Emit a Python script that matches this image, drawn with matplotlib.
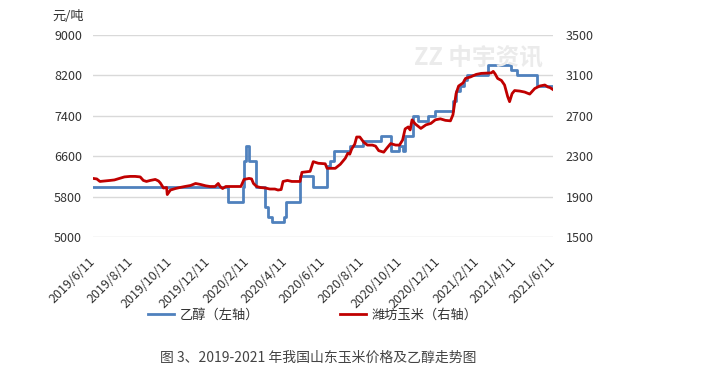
import matplotlib
matplotlib.use("Agg")
import matplotlib.pyplot as plt
import pandas as pd

plt.rcParams['font.family'] = ['Noto Sans CJK SC', 'DejaVu Sans']

# 乙醇 (left axis) - step changes
eth_dates = ["2019-06-11", "2020-01-12", "2020-02-04", "2020-02-06", "2020-02-09",
             "2020-02-14", "2020-02-25", "2020-03-10", "2020-03-15", "2020-03-21",
             "2020-04-10", "2020-04-13", "2020-05-05", "2020-05-25", "2020-06-17",
             "2020-06-22", "2020-06-28", "2020-07-23", "2020-08-13", "2020-09-10",
             "2020-09-26", "2020-10-10", "2020-10-16", "2020-10-19", "2020-11-01",
             "2020-11-09", "2020-11-24", "2020-12-06", "2021-01-03", "2021-01-08",
             "2021-01-15", "2021-01-20", "2021-01-25", "2021-02-27", "2021-04-05",
             "2021-04-15", "2021-05-16", "2021-06-11"]
eth_values = [6000, 5700, 6000, 6500, 6800,
              6500, 6000, 5600, 5400, 5300,
              5400, 5700, 6200, 6000, 6400,
              6500, 6700, 6800, 6900, 7000,
              6700, 6800, 6700, 7000, 7400,
              7300, 7400, 7500, 7700, 7900,
              8000, 8100, 8200, 8400, 8300,
              8200, 8000, 8000]

# 潍坊玉米 (right axis)
corn_dates = ["2019-06-11", "2019-06-17", "2019-06-22", "2019-06-30", "2019-07-08",
              "2019-07-15", "2019-07-23", "2019-07-31", "2019-08-09", "2019-08-17",
              "2019-08-25", "2019-08-30", "2019-09-04", "2019-09-10", "2019-09-18",
              "2019-09-23", "2019-09-26", "2019-10-01", "2019-10-06", "2019-10-07",
              "2019-10-12", "2019-10-20", "2019-10-27", "2019-11-04", "2019-11-13",
              "2019-11-21", "2019-11-29", "2019-12-07", "2019-12-14", "2019-12-22",
              "2019-12-27", "2019-12-30", "2020-01-03", "2020-01-08", "2020-02-01",
              "2020-02-06", "2020-02-14", "2020-02-18", "2020-02-21", "2020-02-26",
              "2020-03-03", "2020-03-11", "2020-03-18", "2020-03-26", "2020-03-31",
              "2020-04-05", "2020-04-08", "2020-04-15", "2020-04-22", "2020-05-05",
              "2020-05-08", "2020-05-21", "2020-05-26", "2020-06-03", "2020-06-14",
              "2020-06-17", "2020-06-30", "2020-07-08", "2020-07-16", "2020-07-20",
              "2020-07-23", "2020-07-26", "2020-07-31", "2020-08-03", "2020-08-08",
              "2020-08-14", "2020-08-20", "2020-08-28", "2020-09-02", "2020-09-07",
              "2020-09-15", "2020-09-20", "2020-09-26", "2020-10-04", "2020-10-10",
              "2020-10-15", "2020-10-19", "2020-10-24", "2020-10-27", "2020-10-30",
              "2020-11-04", "2020-11-13", "2020-11-21", "2020-11-29", "2020-12-06",
              "2020-12-14", "2020-12-22", "2020-12-30", "2021-01-03", "2021-01-08",
              "2021-01-12", "2021-01-19", "2021-01-23", "2021-01-31", "2021-02-09",
              "2021-02-17", "2021-03-05", "2021-03-08", "2021-03-11", "2021-03-15",
              "2021-03-21", "2021-03-26", "2021-03-31", "2021-04-03", "2021-04-07",
              "2021-04-11", "2021-04-19", "2021-04-27", "2021-05-05", "2021-05-13",
              "2021-05-21", "2021-05-29", "2021-06-03", "2021-06-06", "2021-06-11"]
corn_values = [2080, 2075, 2050, 2055, 2060,
               2065, 2080, 2095, 2100, 2100,
               2095, 2060, 2050, 2060, 2070,
               2055, 2035, 1985, 1990, 1920,
               1965, 1980, 1990, 2000, 2010,
               2030, 2020, 2007, 2000, 2000,
               2030, 2000, 1980, 2000, 2000,
               2070, 2080, 2075, 2030, 2000,
               1990, 1985, 1975, 1975, 1965,
               1970, 2050, 2060, 2050, 2050,
               2140, 2150, 2246, 2230, 2225,
               2180, 2180, 2220, 2280, 2330,
               2320, 2370, 2420, 2490, 2490,
               2440, 2410, 2410, 2400, 2355,
               2340, 2380, 2425, 2410, 2410,
               2460, 2570, 2590, 2560, 2660,
               2620, 2575, 2610, 2625, 2660,
               2670, 2655, 2650, 2710, 2920,
               2995, 3025, 3070, 3085, 3110,
               3120, 3125, 3140, 3115, 3070,
               3050, 3005, 2890, 2840, 2920,
               2950, 2945, 2935, 2915, 2970,
               2995, 3005, 2985, 2980, 2960]

tick_dates = ["2019-06-11", "2019-08-11", "2019-10-11", "2019-12-11", "2020-02-11",
              "2020-04-11", "2020-06-11", "2020-08-11", "2020-10-11", "2020-12-11",
              "2021-02-11", "2021-04-11", "2021-06-11"]
tick_labels = ["2019/6/11", "2019/8/11", "2019/10/11", "2019/12/11", "2020/2/11",
               "2020/4/11", "2020/6/11", "2020/8/11", "2020/10/11", "2020/12/11",
               "2021/2/11", "2021/4/11", "2021/6/11"]
left_ticks = [5000, 5800, 6600, 7400, 8200, 9000]
right_ticks = [1500, 1900, 2300, 2700, 3100, 3500]

blue = "#4f81bd"
red = "#c00000"

fig = plt.figure(figsize=(7.03, 3.72), dpi=100)
ax = fig.add_axes([93/703, 1-237/372, 460/703, 202/372])
ax2 = ax.twinx()

ed = pd.to_datetime(eth_dates)
cd = pd.to_datetime(corn_dates)
l1, = ax.plot(ed, eth_values, drawstyle="steps-post", color=blue, lw=2.0, label="乙醇（左轴）")
l2, = ax2.plot(cd, corn_values, color=red, lw=2.0, label="潍坊玉米（右轴）")

ax.set_ylim(5000, 9000)
ax2.set_ylim(1500, 3500)
ax.set_yticks(left_ticks)
ax2.set_yticks(right_ticks)
ax.set_xlim(pd.Timestamp("2019-06-11"), pd.Timestamp("2021-06-11"))
ax.set_xticks(pd.to_datetime(tick_dates))
ax.set_xticklabels(tick_labels, rotation=45, ha="right", va="center", rotation_mode="anchor")

for a in (ax, ax2):
    for s in a.spines.values():
        s.set_visible(False)
    a.tick_params(length=0, labelsize=9, colors="#333333")
ax.tick_params(axis="y", pad=8)
ax2.tick_params(axis="y", pad=9)
ax.tick_params(axis="x", pad=16)
ax.grid(axis="y", color="#d9d9d9", lw=1)
ax.set_axisbelow(True)
ax2.set_zorder(ax.get_zorder() + 1)
ax2.patch.set_visible(False)

fig.text(52/703, 1-16/372, "元/吨", fontsize=9.5, color="#333333", va="center", ha="left")

# watermark
fig.text(478/703, 1-57/372, "ZZ 中宇资讯", fontsize=17, fontweight="bold", color="#ebebeb",
         ha="center", va="center", zorder=0)

fig.legend(handles=[l1, l2], loc="center left", bbox_to_anchor=(148/703, 1-315/372), ncol=2,
           frameon=False, fontsize=9.5, handlelength=2.0, columnspacing=6.1,
           handletextpad=0.4, borderpad=0, borderaxespad=0, labelcolor="#333333")

fig.text(318/703, 1-358/372, "图 3、2019-2021 年我国山东玉米价格及乙醇走势图", fontsize=10,
         color="#444444", ha="center", va="center", style="italic")

fig.savefig("out.png", dpi=100)
